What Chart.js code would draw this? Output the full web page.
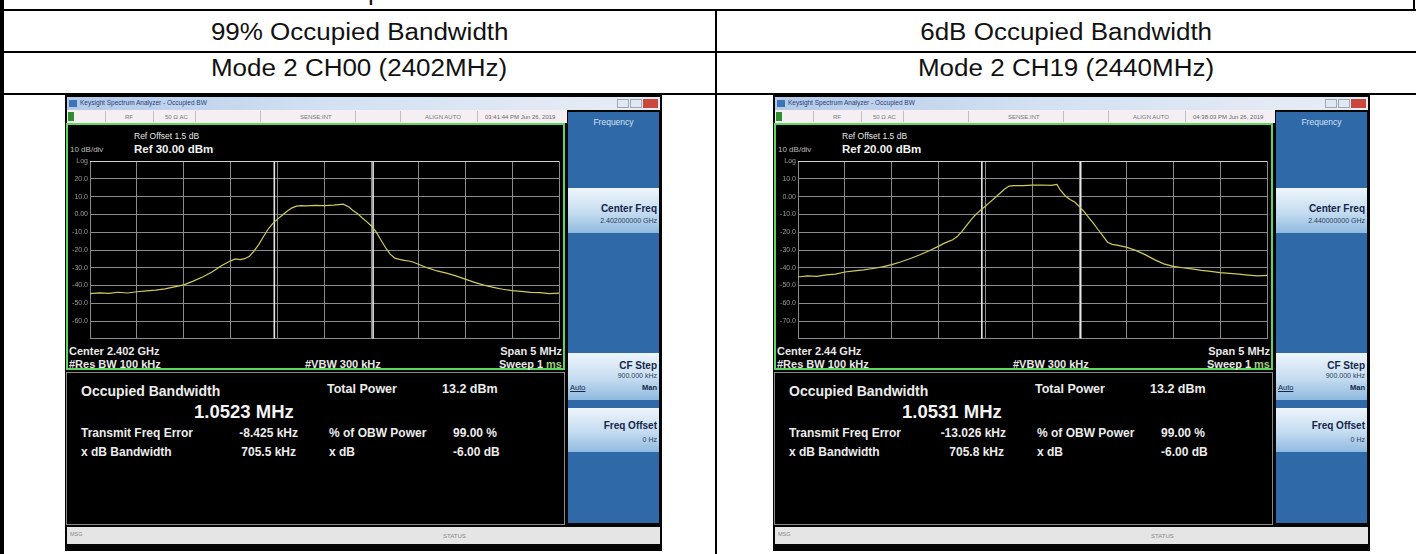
<!DOCTYPE html>
<html>
<head>
<meta charset="utf-8">
<script src="https://cdn.jsdelivr.net/npm/chart.js@4.4.1/dist/chart.umd.min.js"></script>
<style>
  html, body { margin: 0; padding: 0; background: #fff; }
  body { width: 1416px; height: 554px; position: relative; overflow: hidden;
         font-family: "Liberation Sans", Arial, sans-serif; }
  .ln { position: absolute; background: #000; }
  .cell { position: absolute; font-size: 23px; line-height: 23px; color: #111; white-space: nowrap; }
  .cell span { display: inline-block; transform: scaleX(1.13); }
  .win { position: absolute; top: 95px; width: 597px; height: 456px; background: #050505; }
  .win div { position: absolute; white-space: nowrap; line-height: 1; }
  .scr { color: #ececec; }
  .b { font-weight: bold; }
  .key { color: #14264a; font-weight: bold; }
</style>
</head>
<body>
<!-- table grid -->
<div class="ln" style="left:0;top:0;width:4px;height:554px"></div>
<div class="ln" style="left:0;top:9px;width:1416px;height:2px"></div>
<div class="ln" style="left:1413px;top:0;width:2px;height:10px"></div>
<div class="ln" style="left:0;top:51px;width:1416px;height:2px"></div>
<div class="ln" style="left:0;top:93px;width:1416px;height:2px"></div>
<div class="ln" style="left:715px;top:10px;width:2px;height:544px"></div>

<div class="cell" style="left:313px;top:-19px"><span style="transform-origin:left">Test plots</span></div>
<div class="cell" style="left:4px;width:711px;top:21px;text-align:center"><span>99% Occupied Bandwidth</span></div>
<div class="cell" style="left:717px;width:699px;top:21px;text-align:center"><span>6dB Occupied Bandwidth</span></div>
<div class="cell" style="left:4px;width:711px;top:57px;text-align:center"><span>Mode 2 CH00 (2402MHz)</span></div>
<div class="cell" style="left:717px;width:699px;top:57px;text-align:center"><span>Mode 2 CH19 (2440MHz)</span></div>

<div id="panels"></div>

<script>
// trace sample points, offset from centre frequency (MHz)
const freqOffsets = [-2.5, -2.4, -2.3, -2.2, -2.1, -2.0, -1.9, -1.8, -1.7, -1.6, -1.5, -1.4, -1.3, -1.2, -1.1, -1.0,
  -0.95, -0.9, -0.85, -0.8, -0.75, -0.7, -0.65, -0.6, -0.55, -0.5, -0.45, -0.4, -0.35, -0.3, -0.25,
  -0.2, -0.1, 0, 0.1, 0.2, 0.26,
  0.3, 0.35, 0.4, 0.45, 0.5, 0.55, 0.6, 0.65, 0.7, 0.75, 0.8, 0.85, 0.9, 0.95,
  1.0, 1.1, 1.2, 1.3, 1.4, 1.5, 1.6, 1.7, 1.8, 1.9, 2.0, 2.1, 2.2, 2.3, 2.4, 2.5];

// CH00 trace (dBm)
const ch00Levels = [-44.6, -44.1, -44.4, -43.8, -44.2, -43.5, -43.0, -42.6, -41.9, -40.8, -39.6, -37.5, -35.2, -32.4, -28.9, -26.1,
  -25.0, -25.4, -24.9, -23.5, -20.5, -16.8, -12.4, -8.2, -5.0, -2.6, -0.4, 1.8, 3.6, 4.7, 5.0,
  4.9, 5.1, 5.0, 5.3, 5.8, 4.2,
  2.4, 0.6, -1.8, -4.0, -6.5, -9.8, -14.2, -18.6, -22.3, -24.6, -25.3, -25.8, -26.2, -26.9,
  -28.0, -30.1, -31.8, -33.0, -34.6, -36.4, -38.2, -39.8, -41.0, -42.1, -42.9, -43.3, -43.9, -44.0, -44.6, -44.3];

// CH19 trace (dBm)
const ch19Levels = [-45.2, -44.6, -44.9, -44.0, -43.6, -42.4, -41.8, -41.2, -40.4, -39.5, -38.2, -36.6, -34.8, -32.7, -30.4, -27.8,
  -26.4, -25.3, -24.2, -22.3, -19.4, -16.0, -12.6, -9.8, -7.4, -5.2, -2.9, -0.6, 1.8, 4.2, 6.0,
  6.3, 6.2, 6.5, 6.6, 6.4, 6.9,
  3.5, 0.4, -1.6, -3.0, -5.6, -8.4, -11.8, -15.0, -18.6, -22.0, -25.6, -26.8, -27.3, -27.8,
  -28.4, -30.2, -32.6, -35.4, -37.8, -39.2, -40.0, -40.6, -41.5, -42.0, -42.7, -43.2, -43.6, -44.1, -44.6, -44.3];

// occupied bandwidth edge markers (MHz from centre)
const ch00ObwEdges = [-0.535, 0.518];
const ch19ObwEdges = [-0.540, 0.514];

// y tick labels, top to bottom
const ch00TickLabels = ['Log', '20.0', '10.0', '0.00', '-10.0', '-20.0', '-30.0', '-40.0', '-50.0', '-60.0', ''];
const ch19TickLabels = ['Log', '10.0', '0.00', '-10.0', '-20.0', '-30.0', '-40.0', '-50.0', '-60.0', '-70.0', ''];

const panels = [
  { left: 65, id: 'traceL', ref: 30, levels: ch00Levels, edges: ch00ObwEdges, ticks: ch00TickLabels,
    refText: 'Ref 30.00 dBm', center: 'Center 2.402 GHz', cf: '2.402000000 GHz', obw: '1.0523 MHz',
    ferr: '-8.425 kHz', xdb: '705.5 kHz', time: '03:41:44 PM Jun 26, 2019' },
  { left: 773, id: 'traceR', ref: 20, levels: ch19Levels, edges: ch19ObwEdges, ticks: ch19TickLabels,
    refText: 'Ref 20.00 dBm', center: 'Center 2.44 GHz', cf: '2.440000000 GHz', obw: '1.0531 MHz',
    ferr: '-13.026 kHz', xdb: '705.8 kHz', time: '04:38:03 PM Jun 26, 2019' }
];

function t(x, y, s, css) {
  return `<div style="left:${x}px;top:${y}px;${css || ''}">${s}</div>`;
}
function tr(xr, y, s, css) { // right aligned at xr
  return `<div style="right:${597 - xr}px;top:${y}px;${css || ''}">${s}</div>`;
}
function box(x, y, w, h, css) {
  return `<div style="left:${x}px;top:${y}px;width:${w}px;height:${h}px;${css}"></div>`;
}

function panelHtml(p) {
  const btn = 'background:linear-gradient(#eef5fb,#c4dcf0 55%,#8fb9df);';
  let h = `<div class="win" style="left:${p.left}px">`;
  // title bar
  h += box(2, 2, 593, 13, 'background:linear-gradient(90deg,#b4c9e8,#d3e1f3 45%,#e8edf4);');
  h += box(4, 5, 8, 7, 'background:#3d74b8;');
  h += t(15, 5, 'Keysight Spectrum Analyzer - Occupied BW', 'font-size:6.5px;color:#23427a;');
  h += box(552, 4, 12, 9, 'background:#e2e8f0;border:1px solid #9aa8b8;box-sizing:border-box;');
  h += box(565, 4, 12, 9, 'background:#e2e8f0;border:1px solid #9aa8b8;box-sizing:border-box;');
  h += box(578, 4, 15, 9, 'background:#c9473d;');
  // status bar
  h += box(2, 15, 500, 13, 'background:#f5eff4;');
  h += box(3, 17, 6, 9, 'background:#2f8f2f;');
  [40, 88, 130, 195, 290, 335, 412].forEach(x => { h += box(x, 16, 1, 11, 'background:#c5bcc4;'); });
  h += t(60, 19, 'RF', 'font-size:6px;color:#777;');
  h += t(100, 19, '50 &Omega;  AC', 'font-size:6px;color:#777;');
  h += t(235, 19, 'SENSE:INT', 'font-size:6px;color:#777;');
  h += t(360, 19, 'ALIGN AUTO', 'font-size:6px;color:#777;');
  h += t(420, 19, p.time, 'font-size:6px;color:#666;');
  // screen with green frame
  h += box(1, 28, 499, 247, 'border:2px solid #5fd65f;box-sizing:border-box;background:#000;');
  h += `<canvas id="${p.id}" width="493" height="190" style="position:absolute;left:3px;top:60px"></canvas>`;
  h += t(69, 37, 'Ref Offset 1.5 dB', 'font-size:8.5px;color:#e6e6e6;');
  h += t(69, 48.5, p.refText, 'font-size:11.5px;color:#f2f2f2;font-weight:bold;');
  h += t(5, 51, '10 dB/div', 'font-size:8px;color:#bdbdbd;');
  h += t(4, 250.5, p.center, 'font-size:11px;color:#e8e8e8;font-weight:bold;');
  h += t(4, 263.5, '#Res BW 100 kHz', 'font-size:11px;color:#e8e8e8;font-weight:bold;');
  h += t(240, 263.5, '#VBW 300 kHz', 'font-size:11px;color:#e8e8e8;font-weight:bold;');
  h += tr(497, 250.5, 'Span 5 MHz', 'font-size:11px;color:#e8e8e8;font-weight:bold;');
  h += tr(497, 263.5, 'Sweep  1 <span style="color:#9fcf7f">ms</span>', 'font-size:11px;color:#e8e8e8;font-weight:bold;');
  // result panel
  h += box(1, 277, 499, 153, 'border:1px solid #8a8a8a;box-sizing:border-box;background:#000;');
  h += t(16, 289, 'Occupied Bandwidth', 'font-size:14px;color:#ececec;font-weight:bold;');
  h += t(129, 307.5, p.obw, 'font-size:18.5px;color:#f4f4f4;font-weight:bold;');
  h += t(262, 288.4, 'Total Power', 'font-size:12.5px;color:#ececec;font-weight:bold;');
  h += t(377, 288.4, '13.2 dBm', 'font-size:12.5px;color:#ececec;font-weight:bold;');
  h += t(16, 332.4, 'Transmit Freq Error', 'font-size:12px;color:#ececec;font-weight:bold;');
  h += tr(233, 332.4, p.ferr, 'font-size:12px;color:#ececec;font-weight:bold;');
  h += t(264, 332.4, '% of OBW Power', 'font-size:12px;color:#ececec;font-weight:bold;');
  h += t(388, 332.4, '99.00 %', 'font-size:12px;color:#ececec;font-weight:bold;');
  h += t(16, 351.4, 'x dB Bandwidth', 'font-size:12px;color:#ececec;font-weight:bold;');
  h += tr(231, 351.4, p.xdb, 'font-size:12px;color:#ececec;font-weight:bold;');
  h += t(264, 351.4, 'x dB', 'font-size:12px;color:#ececec;font-weight:bold;');
  h += t(388, 351.4, '-6.00 dB', 'font-size:12px;color:#ececec;font-weight:bold;');
  // softkeys
  h += box(503, 17, 91, 411, 'background:#2f69a8;');
  h += `<div style="left:503px;width:91px;top:23px;text-align:center;font-size:8.5px;color:#d3e3f5;">Frequency</div>`;
  h += box(503, 93, 91, 45, btn);
  h += tr(592, 109, 'Center Freq', 'font-size:10px;color:#14264a;font-weight:bold;');
  h += tr(592, 122, p.cf, 'font-size:7px;color:#2a3d60;');
  h += box(503, 258, 91, 47, btn);
  h += tr(592, 266, 'CF Step', 'font-size:10px;color:#14264a;font-weight:bold;');
  h += tr(592, 277, '900.000 kHz', 'font-size:7px;color:#2a3d60;');
  h += t(505, 289, 'Auto', 'font-size:7.5px;color:#14264a;text-decoration:underline;');
  h += tr(592, 289, 'Man', 'font-size:7.5px;color:#14264a;font-weight:bold;');
  h += box(503, 313, 91, 44, btn);
  h += tr(592, 326, 'Freq Offset', 'font-size:10px;color:#14264a;font-weight:bold;');
  h += tr(592, 341, '0 Hz', 'font-size:7px;color:#2a3d60;');
  // bottom status bar
  h += box(2, 432, 593, 17, 'background:#e5e5e5;');
  h += t(5, 437, 'MSG', 'font-size:5.5px;color:#888;');
  h += t(378, 438, 'STATUS', 'font-size:6px;color:#888;');
  h += '</div>';
  return h;
}

document.getElementById('panels').innerHTML = panels.map(panelHtml).join('');

function makeTrace(p) {
  const traceData = freqOffsets.map((f, i) => ({ x: f, y: p.levels[i] }));
  const markerSets = p.edges.map(e => ({
    data: [{ x: e, y: p.ref }, { x: e, y: p.ref - 100 }],
    borderColor: '#e6e6e6', borderWidth: 1.6, pointRadius: 0
  }));
  new Chart(document.getElementById(p.id), {
    type: 'line',
    data: {
      datasets: [
        { data: traceData, borderColor: '#cfcb5a', borderWidth: 1.2, pointRadius: 0, tension: 0 },
        ...markerSets
      ]
    },
    options: {
      responsive: false,
      animation: false,
      events: [],
      layout: { padding: { top: 2, right: 2, bottom: 3, left: 0 } },
      plugins: { legend: { display: false }, tooltip: { enabled: false } },
      scales: {
        x: {
          type: 'linear', min: -2.5, max: 2.5,
          ticks: { display: false, stepSize: 0.5 },
          grid: { color: '#8a8a8a', drawTicks: false },
          border: { display: false },
          afterFit(s) { s.height = 0; }
        },
        y: {
          min: p.ref - 100, max: p.ref,
          ticks: {
            stepSize: 10, color: '#9c9c9c', font: { size: 7 }, padding: 2,
            callback: v => p.ticks[Math.round((p.ref - v) / 10)]
          },
          grid: { color: c => (c.tick && c.tick.value === p.ref ? '#d0d0d0' : '#8a8a8a'), drawTicks: false },
          border: { display: false },
          afterFit(s) { s.width = 22; }
        }
      }
    }
  });
}

panels.forEach(makeTrace);
</script>
</body>
</html>
